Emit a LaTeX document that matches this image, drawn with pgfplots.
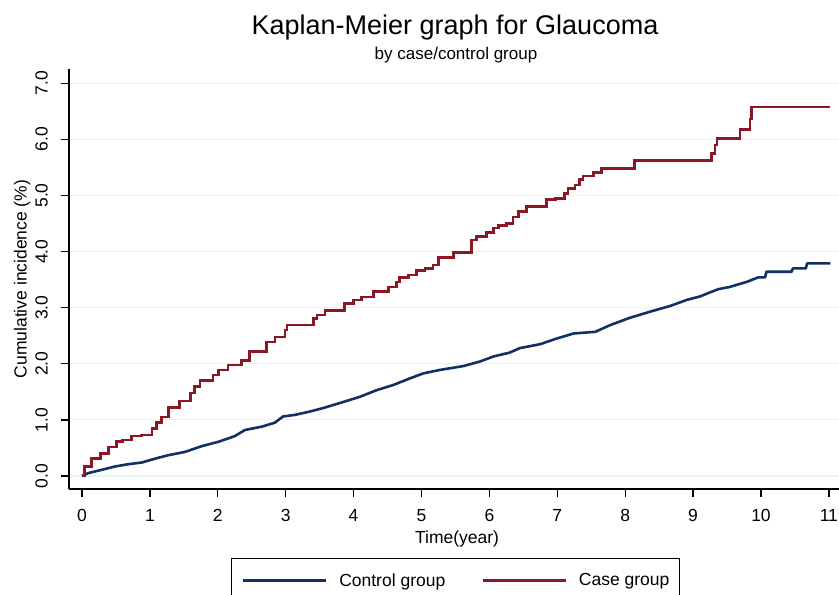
\documentclass[border=0pt]{standalone}
\usepackage{pgfplots}
\pgfplotsset{compat=1.18}
\usepackage{fontspec}
\setmainfont{Liberation Sans}
\definecolor{stnavy}{RGB}{18,48,98}
\definecolor{stmaroon}{RGB}{140,22,36}
\definecolor{gridc}{RGB}{232,241,243}
\begin{document}
\begin{tikzpicture}
\useasboundingbox (0bp,0bp) rectangle (839bp,595bp);
\begin{axis}[
  at={(69bp,106bp)}, anchor=south west,
  scale only axis, width=770bp, height=420bp,
  xmin=-0.191, xmax=11.149, ymin=-0.232, ymax=7.255,
  axis x line*=bottom, axis y line*=left,
  axis line style={-, line width=1.3bp, black},
  xtick={0,1,...,11}, ytick={0,1,...,7},
  tick align=outside, major tick length=8bp,
  tick style={line width=1.3bp, black},
  ymajorgrids, major grid style={gridc, line width=1.2bp},
  /pgf/number format/assume math mode=true,
  yticklabel style={/pgf/number format/fixed, /pgf/number format/fixed zerofill, /pgf/number format/precision=1},
  yticklabel style={xshift=-19.5bp, rotate=90, anchor=center, inner sep=0pt},
  xticklabel style={anchor=north, inner sep=0pt, yshift=-12bp},
  ticklabel style={font=\fontsize{17.5bp}{21bp}\selectfont},
  label style={font=\fontsize{17.5bp}{21bp}\selectfont},
  xlabel={Time(year)},
  ylabel={Cumulative incidence (\%)},
  xlabel style={at={(axis description cs:0.504,-0.1286)}, anchor=base},
  ylabel style={at={(axis description cs:-0.061,0.5)}, anchor=center},
  legend columns=2,
  legend image code/.code={\draw[#1, line width=2.6bp] (0bp,0bp) -- (83bp,0bp);},
  legend style={at={(0.502,-0.164)}, anchor=north, draw=black, line width=1.2bp,
    font=\fontsize{17.5bp}{21bp}\selectfont, inner xsep=10bp, inner ysep=11bp,
    nodes={inner xsep=0bp, inner ysep=4bp},
    /tikz/every odd column/.append style={column sep=12bp},
    /tikz/every even column/.append style={column sep=36bp}},
]
\addplot[sharp plot, color=stnavy, line width=2.6bp, line join=round] table {
x y
0.00 0.00
0.09 0.05
0.29 0.11
0.49 0.17
0.68 0.21
0.88 0.24
1.08 0.31
1.27 0.37
1.52 0.43
1.76 0.53
2.01 0.61
2.25 0.71
2.40 0.82
2.65 0.88
2.84 0.95
2.96 1.06
3.14 1.09
3.36 1.15
3.55 1.21
3.85 1.32
4.09 1.41
4.34 1.53
4.58 1.62
4.83 1.74
5.03 1.83
5.27 1.89
5.62 1.96
5.86 2.04
6.06 2.13
6.30 2.20
6.45 2.28
6.75 2.35
6.99 2.45
7.24 2.54
7.56 2.57
7.78 2.69
8.07 2.82
8.37 2.93
8.66 3.03
8.91 3.14
9.10 3.20
9.37 3.33
9.54 3.37
9.79 3.46
9.96 3.54
10.06 3.54
10.08 3.64
10.45 3.64
10.47 3.70
10.66 3.70
10.68 3.79
11.02 3.79
};
\addlegendentry{Control group}
\addplot[const plot, color=stmaroon, line width=2.6bp] table {
x y
0.00 0.00
0.04 0.17
0.14 0.31
0.27 0.40
0.39 0.52
0.51 0.61
0.60 0.64
0.73 0.71
0.88 0.73
1.03 0.85
1.10 0.95
1.17 1.05
1.27 1.22
1.44 1.34
1.60 1.48
1.66 1.59
1.74 1.70
1.93 1.80
2.01 1.89
2.15 1.98
2.35 2.06
2.47 2.22
2.72 2.39
2.84 2.48
2.99 2.60
3.02 2.69
3.41 2.81
3.46 2.87
3.58 2.95
3.87 3.08
4.00 3.14
4.12 3.19
4.29 3.29
4.51 3.37
4.63 3.46
4.68 3.54
4.81 3.58
4.93 3.66
5.05 3.70
5.17 3.76
5.25 3.90
5.47 3.98
5.74 4.21
5.81 4.27
5.96 4.34
6.06 4.42
6.13 4.47
6.25 4.50
6.35 4.62
6.43 4.71
6.55 4.80
6.84 4.93
6.97 4.95
7.11 5.04
7.16 5.13
7.26 5.19
7.33 5.28
7.38 5.35
7.53 5.41
7.65 5.48
8.14 5.62
9.27 5.75
9.32 5.90
9.35 6.02
9.69 6.18
9.84 6.36
9.86 6.58
11.02 6.58
};
\addlegendentry{Case group}
\end{axis}
\node[anchor=base, font=\fontsize{27bp}{32bp}\selectfont] at (455bp,560.5bp) {Kaplan-Meier graph for Glaucoma};
\node[anchor=base, font=\fontsize{17bp}{20bp}\selectfont] at (456bp,535bp) {by case/control group};
\end{tikzpicture}
\end{document}
